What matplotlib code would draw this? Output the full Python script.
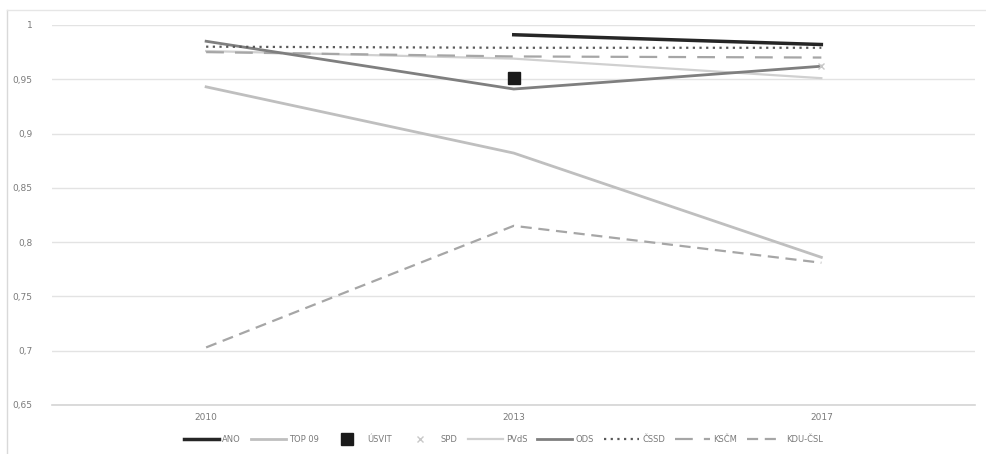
import matplotlib
matplotlib.use("Agg")
import matplotlib.pyplot as plt
from matplotlib.ticker import FuncFormatter, MultipleLocator
import numpy as np

years = ["2010", "2013", "2017"]

ano = [np.nan, 0.991, 0.982]
top09 = [0.943, 0.882, 0.786]
usvit = [np.nan, 0.951, np.nan]
spd = [np.nan, np.nan, 0.962]
pvds = [0.976, 0.969, 0.951]
ods = [0.985, 0.941, 0.962]
cssd = [0.980, 0.979, 0.979]
kscm = [0.975, 0.971, 0.970]
kducsl = [0.703, 0.815, 0.781]

fig = plt.figure(figsize=(9.87, 4.54), dpi=100)
ax = fig.add_axes([0.053, 0.108, 0.935, 0.837])

x = np.arange(len(years))

ax.plot(x, top09, color="#bfbfbf", lw=2.0, label="TOP 09", zorder=3)
ax.plot(x, pvds, color="#d0d0d0", lw=1.6, label="PVdS", zorder=3)
ax.plot(x, kducsl, color="#a6a6a6", lw=1.6, ls=(0, (5, 3)), label="KDU-ČSL", zorder=3)
ax.plot(x, kscm, color="#a6a6a6", lw=1.6, ls=(0, (8, 5)), label="KSČM", zorder=3)
ax.plot(x, ods, color="#7f7f7f", lw=2.0, label="ODS", zorder=4)
ax.plot(x, cssd, color="#595959", lw=1.6, ls=(0, (1, 2)), label="ČSSD", zorder=4)
ax.plot(x, ano, color="#262626", lw=2.5, label="ANO", zorder=5)
ax.plot(x, usvit, ls="none", marker="s", ms=8, color="#1a1a1a", label="ÚSVIT", zorder=6)
ax.plot(x, spd, ls="none", marker="x", ms=5, mew=1.0, color="#c8c8c8", label="SPD", zorder=6)

ax.set_xlim(-0.5, 2.5)
ax.set_ylim(0.65, 1.0)
ax.set_xticks(x)
ax.set_xticklabels(years)
ax.yaxis.set_major_locator(MultipleLocator(0.05))
ax.yaxis.set_major_formatter(FuncFormatter(
    lambda v, _: ("%g" % round(v, 2)).replace(".", ",")))

ax.grid(axis="y", color="#e3e3e3", lw=1.0)
ax.set_axisbelow(True)
for side in ("top", "right", "left"):
    ax.spines[side].set_visible(False)
ax.spines["bottom"].set_color("#d4d4d4")
ax.spines["bottom"].set_linewidth(1.2)
ax.tick_params(axis="both", length=0, labelsize=6.5, labelcolor="#7a7a7a")
ax.tick_params(axis="x", pad=6)
ax.tick_params(axis="y", pad=14)

handles, labels = ax.get_legend_handles_labels()
order = ["ANO", "TOP 09", "ÚSVIT", "SPD", "PVdS", "ODS", "ČSSD", "KSČM", "KDU-ČSL"]
hmap = dict(zip(labels, handles))
fig.legend([hmap[k] for k in order], order, loc="center", bbox_to_anchor=(0.51, 0.033),
           ncol=9, frameon=False, fontsize=6, labelcolor="#7a7a7a",
           handlelength=4.2, columnspacing=1.2, handletextpad=0.4)

# chart frame
fig.add_artist(plt.Line2D([0.007, 0.007], [0.0, 0.978], color="#d9d9d9", lw=1.0,
                          transform=fig.transFigure))
fig.add_artist(plt.Line2D([0.007, 1.0], [0.978, 0.978], color="#e6e6e6", lw=1.0,
                          transform=fig.transFigure))

fig.savefig("out.png", dpi=100)
